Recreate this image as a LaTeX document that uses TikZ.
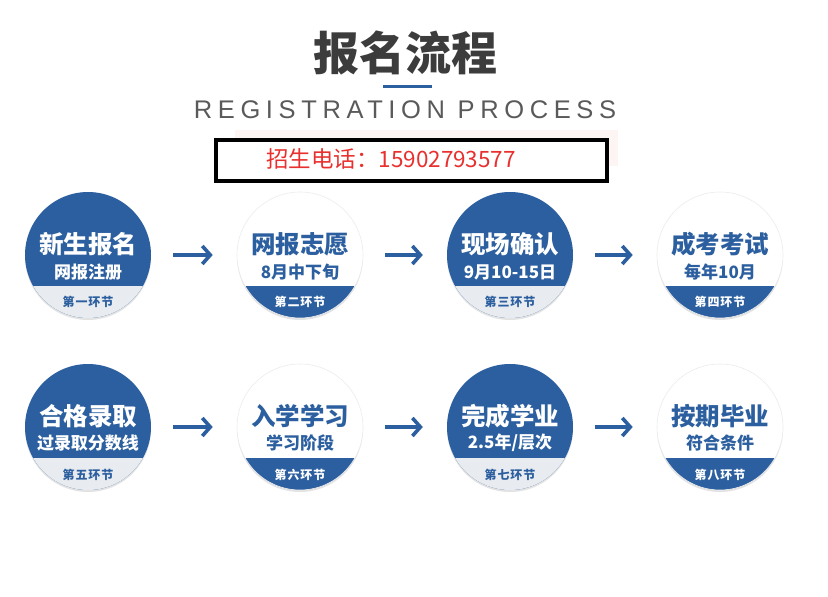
\documentclass[tikz,border=0pt]{standalone}
\usepackage{fontspec}
\setmainfont{Liberation Sans}
\newfontfamily\cjk{Noto Sans CJK SC}
\newfontfamily\regfont[LetterSpace=22]{Liberation Sans}
\newfontfamily\bandfont[LetterSpace=8]{Noto Sans CJK SC}
\usetikzlibrary{arrows.meta,shadows}
\definecolor{cblue}{HTML}{2C5F9F}
\definecolor{bandgray}{HTML}{E8EBEF}
\definecolor{titlegray}{HTML}{3C3C3C}
\definecolor{reggray}{HTML}{5A5A5A}
\definecolor{phonered}{HTML}{E8302E}
\tikzset{
  circbase/.style={circle, minimum size=126pt, inner sep=0pt,
    drop shadow={shadow xshift=0pt, shadow yshift=-2pt, opacity=0.22, fill=gray}},
  bluecirc/.style={circbase, fill=cblue,
    path picture={\fill[bandgray] (path picture bounding box.south west) rectangle ([yshift=32pt]path picture bounding box.south east);}},
  whitecirc/.style={circbase, fill=white, draw=gray!15, line width=0.6pt,
    path picture={\fill[cblue] (path picture bounding box.south west) rectangle ([yshift=32pt]path picture bounding box.south east);}},
  maintxt/.style={font=\cjk\bfseries\fontsize{24.5}{28}\selectfont, inner sep=0pt},
  subtxt/.style={font=\cjk\bfseries\fontsize{17}{20}\selectfont, inner sep=0pt},
  bandtxt/.style={font=\bandfont\bfseries\fontsize{12}{14}\selectfont, inner sep=0pt},
  arr/.style={draw=cblue, line width=3.6pt, -{Straight Barb[length=8pt,width=18pt]}, shorten <=22pt, shorten >=24pt}
}
\begin{document}
\begin{tikzpicture}[x=1pt,y=-1pt]
\useasboundingbox[fill=white] (0,0) rectangle (828,597);
% title
\node[font=\cjk\bfseries\fontsize{46}{52}\selectfont, text=titlegray, inner sep=0pt] (title) at (405,53) {报名流程};
\draw[cblue, line width=3pt] (383,86) -- (432,86);
\node[font=\regfont\fontsize{25.5}{28}\selectfont, text=reggray, inner sep=0pt] (reg) at (405,110) {REGISTRATION PROCESS};
% phone box
\fill[phonered, opacity=0.05] (235,130) rectangle (618,166);
\node[draw=black, line width=4pt, fill=white, minimum width=391pt, minimum height=41pt, inner sep=0pt] (box) at (411.5,160.5) {};
\node[font=\cjk\fontsize{22.5}{26}\selectfont, text=phonered, inner sep=0pt] (phone) at (391,159) {招生电话：15902793577};
% row 1
\node[bluecirc]  (c1) at (88,255) {};
\node[whitecirc] (c2) at (300,255) {};
\node[bluecirc]  (c3) at (510,255) {};
\node[whitecirc] (c4) at (720,255) {};
% row 2
\node[bluecirc]  (c5) at (88,427) {};
\node[whitecirc] (c6) at (300,427) {};
\node[bluecirc]  (c7) at (510,427) {};
\node[whitecirc] (c8) at (720,427) {};
% texts row 1
\node[maintxt, text=white] (m1) at (88,244) {新生报名};
\node[subtxt, text=white]  (s1) at (88,272) {网报注册};
\node[bandtxt, text=cblue] (b1) at (88,302) {第一环节};
\node[maintxt, text=cblue] (m2) at (300,244) {网报志愿};
\node[subtxt, text=cblue]  (s2) at (300,272) {8月中下旬};
\node[bandtxt, text=white] (b2) at (300,302) {第二环节};
\node[maintxt, text=white] (m3) at (510,244) {现场确认};
\node[subtxt, text=white]  (s3) at (510,272) {9月10-15日};
\node[bandtxt, text=cblue] (b3) at (510,302) {第三环节};
\node[maintxt, text=cblue] (m4) at (720,244) {成考考试};
\node[subtxt, text=cblue]  (s4) at (720,272) {每年10月};
\node[bandtxt, text=white] (b4) at (720,302) {第四环节};
% texts row 2
\node[maintxt, text=white] (m5) at (88,416) {合格录取};
\node[subtxt, text=white]  (s5) at (88,443) {过录取分数线};
\node[bandtxt, text=cblue] (b5) at (88,475) {第五环节};
\node[maintxt, text=cblue] (m6) at (300,416) {入学学习};
\node[subtxt, text=cblue]  (s6) at (300,443) {学习阶段};
\node[bandtxt, text=white] (b6) at (300,475) {第六环节};
\node[maintxt, text=white] (m7) at (510,416) {完成学业};
\node[subtxt, text=white]  (s7) at (510,443) {2.5年/层次};
\node[bandtxt, text=cblue] (b7) at (510,475) {第七环节};
\node[maintxt, text=cblue] (m8) at (720,416) {按期毕业};
\node[subtxt, text=cblue]  (s8) at (720,443) {符合条件};
\node[bandtxt, text=white] (b8) at (720,475) {第八环节};
% arrows
\draw[arr] (c1) -- (c2);
\draw[arr] (c2) -- (c3);
\draw[arr] (c3) -- (c4);
\draw[arr] (c5) -- (c6);
\draw[arr] (c6) -- (c7);
\draw[arr] (c7) -- (c8);
\end{tikzpicture}
\end{document}
